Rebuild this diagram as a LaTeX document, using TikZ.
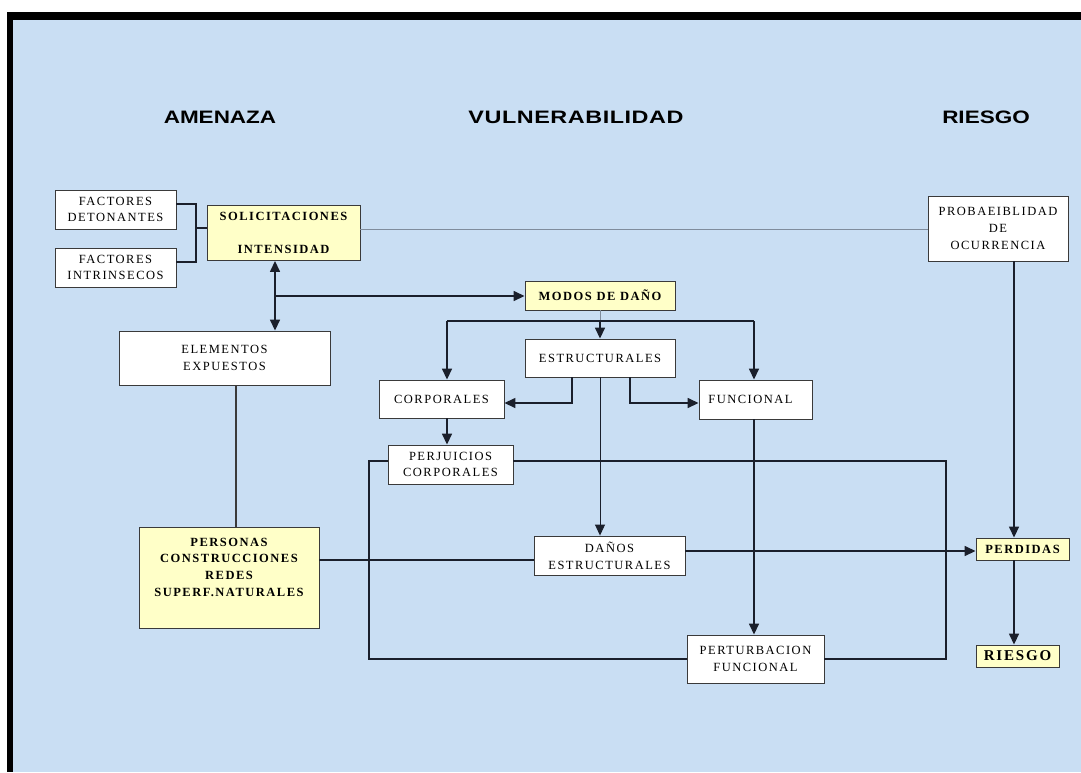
\documentclass[tikz,border=0pt]{standalone}
\usepackage{fontspec}
\setmainfont{Liberation Serif}
\newfontfamily\boxfont{Liberation Serif}[LetterSpace=12]
\newfontfamily\titlefont{Liberation Sans}[FakeStretch=1.25]
\newfontfamily\titlefontw{Liberation Sans}[FakeStretch=1.3, LetterSpace=3]
\usetikzlibrary{arrows.meta}
\definecolor{bg}{HTML}{C9DEF3}
\definecolor{yel}{HTML}{FFFFC8}
\definecolor{boxline}{HTML}{3A3A3A}
\definecolor{lc}{HTML}{1A1F2B}
\definecolor{gl}{HTML}{7F8C9C}
\tikzset{
  box/.style={draw=boxline, line width=0.9pt, fill=white, inner sep=0pt, align=center,
    font=\boxfont\fontsize{12.5}{16.7}\selectfont},
  ybox/.style={box, fill=yel, font=\boxfont\bfseries\fontsize{12.5}{16.7}\selectfont},
  conn/.style={draw=lc, line width=1.5pt},
  arr/.style={conn, -{Triangle[length=11pt,width=10pt]}},
  dblarr/.style={conn, {Triangle[length=11pt,width=10pt]}-{Triangle[length=11pt,width=10pt]}},
  thinline/.style={draw=gl, line width=1pt},
  title/.style={font=\titlefont\bfseries\fontsize{18}{20}\selectfont, inner sep=0pt}
}
\begin{document}
\begin{tikzpicture}[x=1pt,y=-1pt]
\useasboundingbox (0,0) rectangle (1081,772);
\fill[white] (0,0) rectangle (1081,772);
\fill[black] (7,12) rectangle (1081,20);
\fill[black] (7,12) rectangle (13,772);
\fill[bg] (13,20) rectangle (1081,772);

% titles
\node[title] (tA) at (220,117) {AMENAZA};
\node[title, font=\titlefontw\bfseries\fontsize{18}{20}\selectfont] (tV) at (576,117) {VULNERABILIDAD};
\node[title] (tR) at (986,117) {RIESGO};

% boxes
\node[box, minimum width=121pt, minimum height=39pt] (fd) at (115.5,209.5) {FACTORES\\DETONANTES};
\node[box, minimum width=121pt, minimum height=39pt] (fi) at (115.5,267.5) {FACTORES\\INTRINSECOS};
\node[ybox, minimum width=153pt, minimum height=55pt] (sol) at (283.5,233) {SOLICITACIONES\\[16.5pt]INTENSIDAD};
\node[box, minimum width=140pt, minimum height=65pt] (prob) at (998,228.5) {PROBAEIBLIDAD\\DE\\OCURRENCIA};
\node[ybox, minimum width=150pt, minimum height=29pt] (modos) at (600,295.5) {MODOS DE DAÑO};
\node[box, minimum width=211pt, minimum height=54pt] (elem) at (224.5,358) {ELEMENTOS\\EXPUESTOS};
\node[box, minimum width=150pt, minimum height=38pt] (estr) at (600,358) {ESTRUCTURALES};
\node[box, minimum width=125pt, minimum height=38pt] (corp) at (441.5,399) {CORPORALES};
\node[box, minimum width=113pt, minimum height=39pt] (func) at (755.5,399.5) {\hspace*{-10pt}FUNCIONAL};
\node[box, minimum width=125pt, minimum height=39pt] (perj) at (450.5,464.5) {PERJUICIOS\\CORPORALES};
\node[box, minimum width=151pt, minimum height=39pt] (danos) at (609.5,555.5) {DAÑOS\\ESTRUCTURALES};
\node[ybox, minimum width=180pt, minimum height=101pt] (pers) at (229,577.5) {PERSONAS\\CONSTRUCCIONES\\REDES\\SUPERF.NATURALES\\[4pt]~};
\node[box, minimum width=137pt, minimum height=48pt] (pert) at (755.5,659) {PERTURBACION\\FUNCIONAL};
\node[ybox, minimum width=93pt, minimum height=22pt] (perd) at (1022.5,549) {PERDIDAS};
\node[ybox, minimum width=83pt, minimum height=22pt, font=\boxfont\bfseries\fontsize{15}{16}\selectfont] (ries) at (1017.5,656) {RIESGO};

% bracket
\coordinate (bt) at (196,204);
\coordinate (bm) at (196,228);
\coordinate (bb) at (196,262);
\draw[conn, line width=1.1pt] (bt -| fd.east) -- (bt) -- (bb) -- (bb -| fi.east);
\draw[conn, line width=1.1pt] (bm) -- (bm -| sol.west);

% solicitaciones to probabilidad
\coordinate (sp) at (500,229);
\draw[thinline] (sp -| sol.east) -- (sp -| prob.west);

% double arrow and modos
\coordinate (va) at (275,296);
\draw[dblarr] (va |- sol.south) -- (va |- elem.north);
\draw[arr] (va) -- (va -| modos.west);

% modos to estructurales and branches
\coordinate (hl) at (447,321);
\coordinate (hr) at (754,321);
\draw[thinline] (modos.south) -- (modos.south |- hl);
\draw[arr] (modos.south |- hl) -- (estr.north);
\draw[conn] (hl) -- (hr);
\draw[arr] (hl) -- (hl |- corp.north);
\draw[arr] (hr) -- (hr |- func.north);

% estructurales elbows
\coordinate (el) at (572,403);
\coordinate (er) at (630,403);
\draw[arr] (el |- estr.south) -- (el) -- (el -| corp.east);
\draw[arr] (er |- estr.south) -- (er) -- (er -| func.west);

% estructurales to danos
\draw[thinline, -{Triangle[length=11pt,width=10pt]}, lc] (estr.south) -- (estr.south |- danos.north);

% corporales to perjuicios
\draw[arr] (hl |- corp.south) -- (hl |- perj.north);

% perjuicios loops
\coordinate (pl) at (369,461);
\coordinate (pr) at (946,461);
\coordinate (ql) at (369,659);
\coordinate (qr) at (946,659);
\draw[conn] (pl -| perj.west) -- (pl) -- (ql) -- (ql -| pert.west);
\draw[conn] (pr -| perj.east) -- (pr) -- (qr) -- (qr -| pert.east);

% funcional to perturbacion
\draw[arr] (hr |- func.south) -- (hr |- pert.north);

% elementos to personas
\coordinate (ep) at (236,450);
\draw[conn, draw=boxline] (ep |- elem.south) -- (ep |- pers.north);

% personas to danos
\coordinate (pd) at (450,560);
\draw[conn] (pd -| pers.east) -- (pd -| danos.west);

% danos to perdidas
\coordinate (dp) at (800,551);
\draw[arr] (dp -| danos.east) -- (dp -| perd.west);

% probabilidad to perdidas to riesgo
\coordinate (vr) at (1014,400);
\draw[arr] (vr |- prob.south) -- (vr |- perd.north);
\draw[arr] (vr |- perd.south) -- (vr |- ries.north);
\end{tikzpicture}
\end{document}
